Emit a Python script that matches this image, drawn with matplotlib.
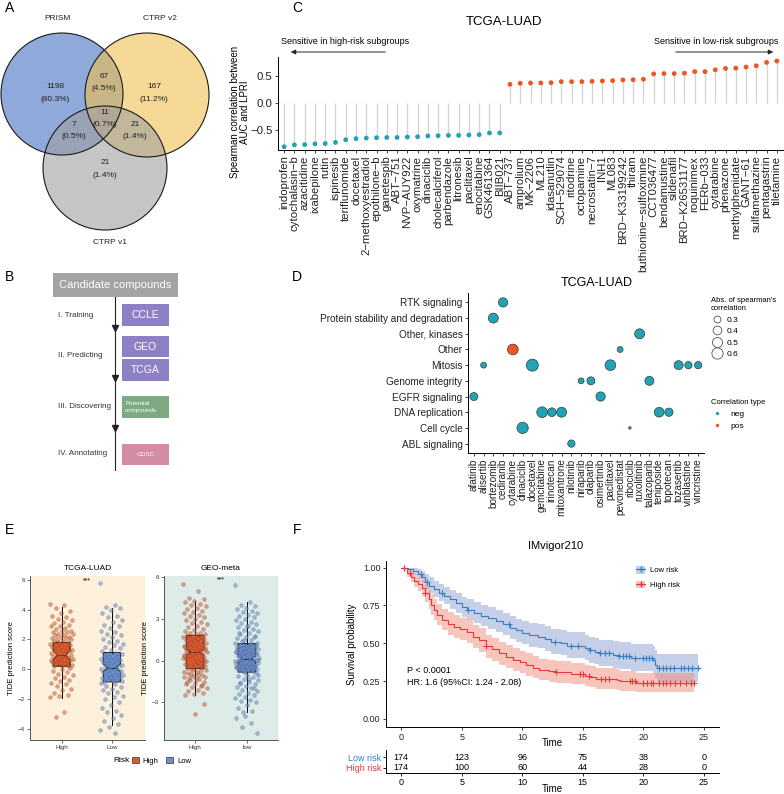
import matplotlib
matplotlib.use('Agg')
import matplotlib.pyplot as plt
from matplotlib.patches import Circle, Rectangle, Patch
from matplotlib.lines import Line2D
import numpy as np

plt.rcParams['font.family'] = ['Liberation Sans', 'DejaVu Sans']
plt.rcParams['axes.linewidth'] = 0.7

# ---------------- data ----------------
# A: Venn
VENN_SETS = ['PRISM', 'CTRP v2', 'CTRP v1']
VENN_COUNTS = [1198, 67, 167, 7, 11, 21, 21]
VENN_PCT = ['80.3%', '4.5%', '11.2%', '0.5%', '0.7%', '1.4%', '1.4%']

# B: workflow
STEPS = ['I. Training', 'II. Predicting', 'III. Discovering', 'IV. Annotating']
STEP_BOXES = ['CCLE', 'GEO', 'TCGA', 'Potential\ncompounds', 'GDSC']

# C: lollipop
C_DRUGS = ['indoprofen', 'cytochalasin-b', 'azacitidine', 'ixabepilone', 'rutin', 'ispinesib',
           'teriflunomide', 'docetaxel', '2-methoxyestradiol', 'epothilone-b', 'ganetespib',
           'ABT-751', 'NVP-AUY922', 'oxymatrine', 'dinaciclib', 'cholecalciferol', 'parbendazole',
           'litronesib', 'paclitaxel', 'enocitabine', 'GSK461364', 'BIIB021',
           'ABT-737', 'amprolium', 'MK-2206', 'ML210', 'idasanutlin', 'SCH-529074', 'ritodrine',
           'octopamine', 'necrostatin-7', 'INH1', 'ML083', 'BRD-K33199242', 'thiram',
           'buthionine-sulfoximine', 'CCT036477', 'bendamustine', 'sildenafil', 'BRD-K26531177',
           'roquinimex', 'FERb-033', 'cytarabine', 'phenazone', 'methylphenidate', 'GANT-61',
           'sulfamethazine', 'pentagastrin', 'tiletamine']
C_RHO = [-0.81, -0.775, -0.77, -0.756, -0.75, -0.73, -0.68, -0.66, -0.65, -0.643, -0.638,
         -0.638, -0.63, -0.625, -0.61, -0.606, -0.60, -0.60, -0.593, -0.587, -0.555, -0.555,
         0.345, 0.364, 0.37, 0.37, 0.375, 0.394, 0.394, 0.394, 0.40, 0.407, 0.413, 0.426,
         0.43, 0.439, 0.538, 0.544, 0.544, 0.55, 0.58, 0.58, 0.613, 0.638, 0.644, 0.664,
         0.688, 0.75, 0.776]

# D: bubble
D_CATS = ['ABL signaling', 'Cell cycle', 'DNA replication', 'EGFR signaling', 'Genome integrity',
          'Mitosis', 'Other', 'Other, kinases', 'Protein stability and degradation', 'RTK signaling']
D_DRUGS = ['afatinib', 'alisertib', 'bortezomib', 'cediranib', 'cytarabine', 'dinaciclib',
           'docetaxel', 'gemcitabine', 'irinotecan', 'mitoxantrone', 'nilotinib', 'niraparib',
           'olaparib', 'osimertinib', 'paclitaxel', 'pevonedistat', 'ribociclib', 'ruxolitinib',
           'talazoparib', 'teniposide', 'topotecan', 'tozasertib', 'vinblastine', 'vincristine']
D_PATHWAY = ['EGFR signaling', 'Mitosis', 'Protein stability and degradation', 'RTK signaling',
             'Other', 'Cell cycle', 'Mitosis', 'DNA replication', 'DNA replication',
             'DNA replication', 'ABL signaling', 'Genome integrity', 'Genome integrity',
             'EGFR signaling', 'Mitosis', 'Other', 'Cell cycle', 'Other, kinases',
             'Genome integrity', 'DNA replication', 'DNA replication', 'Mitosis', 'Mitosis', 'Mitosis']
D_ABS = [0.36, 0.26, 0.49, 0.44, 0.55, 0.60, 0.67, 0.55, 0.40, 0.49, 0.32, 0.26,
         0.36, 0.44, 0.55, 0.26, 0.20, 0.49, 0.42, 0.47, 0.375, 0.42, 0.32, 0.32]
D_TYPE = ['neg', 'neg', 'neg', 'neg', 'pos', 'neg', 'neg', 'neg', 'neg', 'neg', 'neg', 'neg',
          'neg', 'neg', 'neg', 'neg', 'neg', 'neg', 'neg', 'neg', 'neg', 'neg', 'neg', 'neg']

# E: TIDE scores
TCGA_HIGH = [4.4, 4.3, 4.1, 3.9, 3.8, 3.6, 3.5, 3.4, 3.3, 3.2, 3.1, 3.0, 2.9, 2.9, 2.8, 2.7,
             2.6, 2.6, 2.5, 2.5, 2.4, 2.4, 2.3, 2.3, 2.2, 2.2, 2.1, 2.1, 2.0, 2.0, 1.9, 1.9,
             1.8, 1.8, 1.7, 1.7, 1.6, 1.6, 1.5, 1.5, 1.4, 1.4, 1.3, 1.3, 1.2, 1.2, 1.1, 1.1,
             1.0, 1.0, 0.95, 0.9, 0.9, 0.8, 0.8, 0.7, 0.7, 0.6, 0.6, 0.5, 0.5, 0.4, 0.4, 0.3,
             0.3, 0.2, 0.2, 0.85, 0.65, 0.45, 0.35, 0.1, 0.0, -0.1, -0.2, -0.3, -0.4, -0.5,
             -0.6, -0.7, -0.8, -0.9, -1.0, -1.1, -1.3, -1.4, -1.6, -1.7, -1.8, -1.9, -2.85, -3.2]
TCGA_LOW = [5.8, 4.3, 4.2, 4.1, 4.0, 3.8, 3.6, 3.5, 3.3, 3.2, 3.0, 2.9, 2.8, 2.6, 2.5, 2.4,
            2.3, 2.2, 2.0, 1.9, 1.8, 1.7, 1.6, 1.5, 1.4, 1.3, 1.2, 1.1, 1.0, 1.0, 0.9, 0.9,
            0.8, 0.8, 0.7, 0.7, 0.6, 0.6, 0.5, 0.5, 0.4, 0.4, 0.3, 0.3, 0.2, 0.2, 0.1, 0.0,
            0.0, -0.1, -0.1, -0.2, -0.2, -0.3, -0.3, -0.4, -0.4, -0.5, -0.5, -0.6, -0.6, -0.7,
            -0.7, -0.8, -0.8, -0.85, -0.25, -0.55, -0.9, -1.0, -1.1, -1.2, -1.3, -1.4, -1.5,
            -1.6, -1.8, -1.9, -2.0, -2.2, -2.4, -2.6, -2.8, -2.9, -3.1, -3.3, -3.5, -3.7, -3.9,
            -4.1, -4.3]
GEO_HIGH = [5.5, 5.0, 4.5, 4.4, 4.3, 4.2, 4.1, 4.0, 3.9, 3.8, 3.7, 3.6, 3.5, 3.4, 3.3, 3.2,
            3.1, 3.0, 2.9, 2.8, 2.7, 2.6, 2.5, 2.4, 2.3, 2.2, 2.1, 2.0, 2.0, 1.9, 1.9, 1.85,
            1.8, 1.75, 1.7, 1.65, 1.6, 1.55, 1.5, 1.45, 1.4, 1.35, 1.3, 1.25, 1.2, 1.15, 1.1,
            1.05, 1.0, 0.95, 0.9, 0.85, 0.8, 0.75, 0.7, 0.65, 1.6, 1.2, 0.9, 1.4, 1.0, 0.7,
            1.3, 0.8, 0.6, 0.55, 0.5, 0.45, 0.4, 0.35, 0.3, 0.25, 0.2, 0.15, 0.1, 0.05, 0.0,
            -0.05, -0.1, -0.15, -0.2, -0.25, -0.3, -0.35, -0.4, -0.45, -0.5, -0.55, 0.5, 0.2,
            -0.1, 0.4, 0.0, -0.3, 0.3, -0.2, -0.6, -0.7, -0.8, -0.9, -1.0, -1.1, -1.2, -1.3,
            -1.4, -1.5, -1.6, -1.7, -1.8, -1.9, -2.0, -2.1, -2.2, -2.3, -2.4, -2.5, -0.75,
            -0.95, -1.15, -1.35, -1.55, -1.75, -0.65, -0.85, -1.05, -1.25, -3.1, -3.8]
GEO_LOW = [5.4, 4.2, 4.0, 3.9, 3.8, 3.7, 3.6, 3.5, 3.4, 3.3, 3.2, 3.1, 3.0, 2.9, 2.8, 2.7,
           2.6, 2.5, 2.4, 2.3, 2.2, 2.1, 2.0, 1.9, 1.8, 1.7, 1.6, 1.5, 1.4, 1.3, 2.5, 2.0,
           1.7, 1.5, 1.3, 1.2, 1.15, 1.1, 1.05, 1.0, 0.95, 0.9, 0.85, 0.8, 0.75, 0.7, 0.65,
           0.6, 0.55, 0.5, 0.45, 0.4, 0.35, 0.3, 0.25, 0.2, 0.15, 1.1, 1.0, 0.9, 0.8, 0.7,
           0.6, 0.5, 0.4, 0.3, 0.2, 0.9, 0.6, 0.3, 0.1, 0.05, 0.0, -0.05, -0.1, -0.15, -0.2,
           -0.25, -0.3, -0.35, -0.4, -0.45, -0.5, -0.55, -0.6, -0.65, -0.7, -0.75, -0.8, 0.0,
           -0.1, -0.2, -0.3, -0.4, -0.5, -0.6, -0.7, 0.05, -0.15, -0.35, -0.55, -0.75, -0.25,
           -0.45, -0.65, -0.9, -1.0, -1.1, -1.2, -1.3, -1.4, -1.5, -1.6, -1.7, -1.8, -1.9,
           -2.0, -2.1, -2.2, -2.3, -2.4, -2.5, -2.6, -2.7, -2.8, -2.9, -3.0, -3.2, -3.4, -3.6,
           -3.7, -1.0, -1.3, -1.6, -2.0, -4.0, -4.1, -4.5, -4.8, -5.2]
# box summaries: q1, median, q3, whisker low, whisker high, notch half width
E_BOX = {
    'TCGA-LUAD': [(0.2, 0.95, 1.8, -1.93, 4.2, 0.3), (-0.85, 0.1, 1.12, -3.72, 4.13, 0.25)],
    'GEO-meta': [(-0.57, 0.62, 1.81, -2.48, 4.3, 0.2), (-0.82, 0.14, 1.22, -3.72, 4.2, 0.2)],
}

# F: Kaplan-Meier (IMvigor210)
LOW_T = [0, 0.6, 1.0, 1.4, 1.7, 2.0, 2.3, 2.7, 3.1, 3.5, 4.0, 4.5, 5.0, 5.4, 6.0, 6.6, 7.2,
         7.8, 8.4, 9.0, 9.5, 10.0, 10.6, 11.3, 11.9, 12.4, 13.2, 13.7, 15.2, 15.5, 16.0, 16.3,
         17.5, 18.0, 19.0, 20.8, 20.95, 21.1]
LOW_S = [1.0, 0.988, 0.976, 0.958, 0.94, 0.905, 0.88, 0.858, 0.835, 0.815, 0.79, 0.765, 0.74,
         0.72, 0.70, 0.68, 0.665, 0.645, 0.625, 0.60, 0.585, 0.57, 0.555, 0.545, 0.53, 0.511,
         0.50, 0.485, 0.47, 0.456, 0.445, 0.434, 0.423, 0.416, 0.405, 0.39, 0.36, 0.335]
LOW_HI = [1.0, 1.0, 1.0, 0.99, 0.98, 0.955, 0.935, 0.915, 0.895, 0.875, 0.853, 0.83, 0.808,
          0.79, 0.77, 0.752, 0.738, 0.72, 0.70, 0.678, 0.664, 0.65, 0.636, 0.627, 0.613, 0.595,
          0.585, 0.572, 0.558, 0.545, 0.535, 0.525, 0.515, 0.508, 0.498, 0.485, 0.455, 0.43]
LOW_LO = [1.0, 0.97, 0.95, 0.925, 0.90, 0.86, 0.83, 0.805, 0.78, 0.758, 0.73, 0.703, 0.676,
          0.655, 0.633, 0.612, 0.595, 0.573, 0.553, 0.527, 0.51, 0.495, 0.478, 0.467, 0.452,
          0.432, 0.42, 0.405, 0.388, 0.373, 0.362, 0.35, 0.338, 0.33, 0.318, 0.302, 0.272, 0.247]
LOW_END = 24.5
LOW_CENS = [0.2, 1.6, 2.1, 3.4, 5.5, 8.9, 12.7, 14.0, 14.6, 15.6, 16.4, 16.8, 17.2, 18.0, 18.3,
            18.6, 18.8, 19.3, 20.0, 20.2, 20.5, 20.7, 21.3, 21.6, 21.9, 22.2, 22.5, 23.1, 23.4,
            23.7, 24.0, 24.5]
HIGH_T = [0, 0.5, 0.8, 1.1, 1.4, 1.7, 2.0, 2.3, 2.5, 2.7, 3.0, 3.4, 3.9, 4.4, 4.9, 5.4, 5.9,
          6.4, 7.0, 7.5, 8.1, 8.7, 9.2, 9.8, 10.3, 10.9, 11.4, 12.2, 12.8, 14.0, 15.2, 15.6,
          16.1, 17.8, 18.1, 19.4]
HIGH_S = [1.0, 0.965, 0.94, 0.91, 0.89, 0.865, 0.83, 0.79, 0.755, 0.72, 0.69, 0.655, 0.63,
          0.61, 0.595, 0.575, 0.545, 0.52, 0.48, 0.46, 0.435, 0.41, 0.39, 0.375, 0.357, 0.34,
          0.324, 0.315, 0.309, 0.30, 0.283, 0.275, 0.264, 0.256, 0.25, 0.236]
HIGH_HI = [1.0, 0.99, 0.975, 0.955, 0.94, 0.92, 0.89, 0.855, 0.823, 0.79, 0.762, 0.728, 0.705,
           0.685, 0.67, 0.652, 0.622, 0.598, 0.558, 0.538, 0.512, 0.487, 0.467, 0.452, 0.433,
           0.415, 0.398, 0.389, 0.382, 0.373, 0.355, 0.347, 0.335, 0.327, 0.32, 0.305]
HIGH_LO = [1.0, 0.94, 0.905, 0.87, 0.845, 0.815, 0.775, 0.73, 0.69, 0.652, 0.62, 0.585, 0.558,
           0.538, 0.522, 0.5, 0.47, 0.445, 0.405, 0.385, 0.36, 0.337, 0.317, 0.303, 0.286, 0.27,
           0.255, 0.246, 0.24, 0.232, 0.217, 0.21, 0.2, 0.194, 0.188, 0.176]
HIGH_END = 24.2
HIGH_CENS = [0.2, 0.7, 2.0, 7.0, 12.8, 14.8, 15.0, 15.5, 16.5, 16.8, 17.2, 18.9, 19.1, 19.3,
             20.0, 20.3, 20.6, 20.8, 21.3, 21.6, 21.9, 22.2, 22.6, 23.0, 23.5, 23.9, 24.2]
RISK_TIMES = [0, 5, 10, 15, 20, 25]
RISK_LOW = [174, 123, 96, 75, 38, 0]
RISK_HIGH = [174, 100, 60, 44, 28, 0]

# ---------------- figure ----------------
W, H = 784, 794
fig = plt.figure(figsize=(W / 100, H / 100), dpi=100)


def px_axes(x0, y0, x1, y1):
    return fig.add_axes([x0 / W, 1 - y1 / H, (x1 - x0) / W, (y1 - y0) / H])


def fpos(x, y):
    return (x / W, 1 - y / H)


TEAL = '#22A3B3'
ORANGE = '#EE5522'

for lab, x, y in [('A', 10, 8), ('B', 10, 277), ('C', 297, 8), ('D', 297, 277),
                  ('E', 10, 530), ('F', 297, 530)]:
    fig.text(*fpos(x, y), lab, fontsize=10, ha='center', va='center')

# ---- A: Venn ----
axA = px_axes(0, 0, 260, 260)
axA.set_xlim(0, 260)
axA.set_ylim(260, 0)
axA.axis('off')
circles = [((62, 94), 61, '#4470C4'), ((147, 95), 62, '#F0C050'), ((105, 168), 62, '#A0A0A0')]
for c, r, col in circles:
    axA.add_patch(Circle(c, r, facecolor=col, alpha=0.6, edgecolor='none'))
for c, r, col in circles:
    axA.add_patch(Circle(c, r, facecolor='none', edgecolor='#1a1a1a', lw=0.8))
region_xy = [(55, 87), (104, 76), (154, 87), (74, 124), (105, 112), (135, 124), (105, 163)]
for (x, y), n, p in zip(region_xy, VENN_COUNTS, VENN_PCT):
    axA.text(x, y, str(n), ha='center', va='center', fontsize=6, color='#222222')
    axA.text(x, y + 12.5, '(' + p + ')', ha='center', va='center', fontsize=6, color='#222222')
for (x, y), name in zip([(58, 18), (160, 18), (110, 243)], VENN_SETS):
    axA.text(x, y, name, ha='center', va='center', fontsize=6, color='#222222')

# ---- B: workflow ----
axB = px_axes(0, 262, 260, 480)
axB.set_xlim(0, 260)
axB.set_ylim(480, 262)
axB.axis('off')
axB.add_patch(Rectangle((53, 273), 125, 24, facecolor='#A3A3A3', edgecolor='none'))
axB.text(115.5, 285, 'Candidate compounds', color='white', ha='center', va='center', fontsize=8)
axB.plot([115, 115], [297, 470], color='#222222', lw=0.8)
axB.plot([115, 115, 115], [328, 378, 428], ls='', marker='v', color='#222222', ms=4)
for name, y in zip(STEPS, [315, 355, 406, 453]):
    axB.text(58, y, name, ha='left', va='center', fontsize=5.8, color='#333333')
box_geo = [(304, 326, '#8E80C4', 7.5), (336, 357, '#8E80C4', 7.5), (359, 381, '#8E80C4', 7.5),
           (396, 418, '#7DAA82', 4.5), (444, 465, '#D48CA5', 4.5)]
for (y0, y1, col, fs), name in zip(box_geo, STEP_BOXES):
    axB.add_patch(Rectangle((122, y0), 47, y1 - y0, facecolor=col, edgecolor='none'))
    if '\n' in name:
        axB.text(125, (y0 + y1) / 2, name, ha='left', va='center', fontsize=fs, color='white',
                 linespacing=1.3)
    else:
        axB.text(145.5, (y0 + y1) / 2, name, ha='center', va='center', fontsize=fs, color='white')

# ---- C: lollipop ----
axC = px_axes(278, 57, 783, 150)
xc = np.arange(len(C_DRUGS))
colsC = [TEAL if v < 0 else ORANGE for v in C_RHO]
axC.vlines(xc, 0, C_RHO, color='#D3D3D3', lw=0.9, zorder=1)
axC.scatter(xc, C_RHO, s=12, c=colsC, linewidths=0, zorder=2)
axC.set_xlim(-0.6, len(C_DRUGS) - 0.4)
axC.set_ylim(-0.87, 0.85)
axC.set_yticks([-0.5, 0.0, 0.5])
axC.set_yticklabels(['\u22120.5', '0.0', '0.5'])
axC.set_xticks(xc)
axC.set_xticklabels([d.replace('-', '\u2212') for d in C_DRUGS], rotation=90)
axC.tick_params(labelsize=8.2, length=2.5, width=0.6, pad=1.5, colors='#222222')
for s in ['top', 'right']:
    axC.spines[s].set_visible(False)
fig.text(*fpos(504, 22), 'TCGA-LUAD', ha='center', va='center', fontsize=9.5)
fig.text(*fpos(240, 112), 'Spearman correlation between\nAUC and LPRI', rotation=90,
         ha='center', va='center', fontsize=7, linespacing=1.1)
fig.text(*fpos(281, 42), 'Sensitive in high-risk subgroups', ha='left', va='center', fontsize=6.5)
fig.text(*fpos(778, 42), 'Sensitive in low-risk subgroups', ha='right', va='center', fontsize=6.5)
axC.annotate('', xy=fpos(288, 52), xytext=fpos(388, 52), xycoords='figure fraction',
             textcoords='figure fraction', annotation_clip=False,
             arrowprops=dict(arrowstyle='-|>', color='#222222', lw=0.7, mutation_scale=7))
axC.annotate('', xy=fpos(776, 52), xytext=fpos(673, 52), xycoords='figure fraction',
             textcoords='figure fraction', annotation_clip=False,
             arrowprops=dict(arrowstyle='-|>', color='#222222', lw=0.7, mutation_scale=7))

# ---- D: bubble ----
axD = px_axes(468, 293, 704, 453)


def d_area(v):
    d_px = 2.5 + 9.5 * np.sqrt(np.clip((np.asarray(v) - 0.2) / 0.47, 0, None))
    return (d_px * 0.72) ** 2


xd = np.arange(len(D_DRUGS))
yd = [D_CATS.index(p) for p in D_PATHWAY]
colsD = [TEAL if t == 'neg' else ORANGE for t in D_TYPE]
axD.scatter(xd, yd, s=d_area(D_ABS), c=colsD, edgecolors='#3a3a3a', linewidths=0.5, zorder=3)
axD.set_xlim(-0.6, len(D_DRUGS) - 0.4)
axD.set_ylim(-0.6, len(D_CATS) - 0.4)
axD.set_xticks(xd)
axD.set_xticklabels(D_DRUGS, rotation=90)
axD.set_yticks(range(len(D_CATS)))
axD.set_yticklabels(D_CATS)
axD.tick_params(labelsize=7.2, length=2.5, width=0.6, pad=1.5, colors='#222222')
for s in ['top', 'right']:
    axD.spines[s].set_visible(False)
fig.text(*fpos(597, 283), 'TCGA-LUAD', ha='center', va='center', fontsize=9)
size_h = [Line2D([], [], ls='', marker='o', ms=np.sqrt(d_area(v)), mfc='white', mec='#555555',
                 mew=0.6) for v in [0.3, 0.4, 0.5, 0.6]]
leg1 = axD.legend(size_h, ['0.3', '0.4', '0.5', '0.6'], title="Abs. of spearman's\ncorrelation",
                  loc='upper left', bbox_to_anchor=fpos(711, 297), bbox_transform=fig.transFigure,
                  frameon=False, fontsize=6, title_fontsize=5.5, alignment='left',
                  handlelength=1.4, handletextpad=0.5, labelspacing=0.45, borderpad=0,
                  borderaxespad=0)
axD.add_artist(leg1)
type_h = [Line2D([], [], ls='', marker='o', ms=2.5, mfc=c, mec='none') for c in [TEAL, ORANGE]]
axD.legend(type_h, ['neg', 'pos'], title='Correlation type', loc='upper left',
           bbox_to_anchor=fpos(711, 399), bbox_transform=fig.transFigure, frameon=False,
           fontsize=6, title_fontsize=5.5, alignment='left', handlelength=1.4,
           handletextpad=0.9, labelspacing=0.5, borderpad=0, borderaxespad=0)

# ---- E: TIDE box plots ----
E_PANELS = [('TCGA-LUAD', (30, 576, 145, 740), '#FDF1DC', TCGA_HIGH, TCGA_LOW, ['High', 'Low'],
             (-4.76, 6.27), [-4, -2, 0, 2, 4, 6], (0.37, 2.66)),
            ('GEO-meta', (164, 576, 278, 740), '#DDECE8', GEO_HIGH, GEO_LOW, ['High', 'low'],
             (-5.7, 6.08), [-3, 0, 3, 6], (0.4, 2.6))]
BOX_COLS = ['#E4572E', '#6F8FCB']
PT_FACE = ['#D0643A', '#6F8FC6']
PT_EDGE = ['#9A3B1E', '#3F5F96']
for title, rect, bg, hi_vals, lo_vals, xl, ylim, yt, xlim in E_PANELS:
    ax = px_axes(*rect)
    ax.set_facecolor(bg)
    stats = []
    for q1, med, q3, wl, wh, nh in E_BOX[title]:
        stats.append(dict(q1=q1, med=med, q3=q3, whislo=wl, whishi=wh, fliers=[],
                          cilo=med - nh, cihi=med + nh))
    bp = ax.bxp(stats, positions=[1, 2], widths=0.34, patch_artist=True, shownotches=True,
                showfliers=False, showcaps=False, manage_ticks=False,
                boxprops=dict(lw=0.7, edgecolor='#111111'), whiskerprops=dict(lw=0.7),
                medianprops=dict(color='#111111', lw=0.7), zorder=2)
    for patch, col in zip(bp['boxes'], BOX_COLS):
        patch.set_facecolor(col)
    for k, vals in enumerate([hi_vals, lo_vals]):
        n = len(vals)
        jit = ((np.arange(n) * 0.6180339887) % 1 - 0.5) * 0.46
        ax.scatter(1 + k + jit, vals, s=7, facecolor=PT_FACE[k], edgecolor=PT_EDGE[k],
                   linewidths=0.4, alpha=0.55, zorder=3)
    ax.set_xlim(*xlim)
    ax.set_ylim(*ylim)
    ax.set_yticks(yt)
    ax.set_xticks([1, 2])
    ax.set_xticklabels(xl)
    ax.tick_params(labelsize=4.5, length=2, width=0.5, pad=1.5, colors='#333333')
    for s in ['top', 'right']:
        ax.spines[s].set_visible(False)
    for s in ['left', 'bottom']:
        ax.spines[s].set_color('#555555')
    ax.set_ylabel('TIDE prediction score', fontsize=5.5, labelpad=2)
    ax.set_title(title, fontsize=6, pad=4)
    ax.text(1.5, ylim[1] - 0.3, '***', ha='center', va='center', fontsize=5)
fig.text(*fpos(122, 761), 'Risk', ha='center', va='center', fontsize=6)
fig.legend([Patch(facecolor=BOX_COLS[0], edgecolor='#333333', lw=0.5),
            Patch(facecolor=BOX_COLS[1], edgecolor='#333333', lw=0.5)], ['High', 'Low'],
           loc='center left', bbox_to_anchor=fpos(132, 761), ncol=2, frameon=False, fontsize=5.5,
           handlelength=0.9, handleheight=0.9, handletextpad=0.5, columnspacing=1.0,
           borderpad=0, borderaxespad=0)

# ---- F: Kaplan-Meier ----
BLUE, RED = '#3A7DC0', '#E8383D'
BLUE_BAND, RED_BAND = '#8DA0D3', '#EE8F7A'
axF = px_axes(386, 561, 719, 727)
for T, S, LO, HI, END, CENS, col, band in [
        (LOW_T, LOW_S, LOW_LO, LOW_HI, LOW_END, LOW_CENS, BLUE, BLUE_BAND),
        (HIGH_T, HIGH_S, HIGH_LO, HIGH_HI, HIGH_END, HIGH_CENS, RED, RED_BAND)]:
    t = np.array(T + [END])
    s = np.array(S + [S[-1]])
    lo = np.array(LO + [LO[-1]])
    hi = np.array(HI + [HI[-1]])
    axF.fill_between(t, lo, hi, step='post', color=band, alpha=0.5, lw=0)
    axF.step(t, s, where='post', color=col, lw=0.8)
    idx = np.searchsorted(T, CENS, side='right') - 1
    axF.plot(CENS, np.array(S)[idx], ls='', marker='+', color=col, ms=4.5, mew=0.8)
axF.set_xlim(-1.25, 26.25)
axF.set_ylim(-0.053, 1.044)
axF.set_yticks([0, 0.25, 0.5, 0.75, 1.0])
axF.set_yticklabels(['0.00', '0.25', '0.50', '0.75', '1.00'])
axF.set_xticks(RISK_TIMES)
axF.tick_params(labelsize=6.5, length=2.5, width=0.6, pad=1.5, colors='#222222')
for sp in ['top', 'right']:
    axF.spines[sp].set_visible(False)
axF.set_xlabel('Time', fontsize=7)
axF.xaxis.set_label_coords(0.5, -0.065)
axF.set_ylabel('Survival probability', fontsize=7, labelpad=4)
axF.text(0.5, 0.28, 'P < 0.0001\nHR: 1.6 (95%CI: 1.24 - 2.08)', ha='left', va='center',
         fontsize=6.5, linespacing=1.35)
fig.text(*fpos(556, 546), 'IMvigor210', ha='center', va='center', fontsize=8)
axF.legend([(Patch(facecolor=BLUE_BAND, alpha=0.5), Line2D([], [], color=BLUE, marker='+', lw=0.8, ms=4)),
            (Patch(facecolor=RED_BAND, alpha=0.5), Line2D([], [], color=RED, marker='+', lw=0.8, ms=4))],
           ['Low risk', 'High risk'], loc='upper left', bbox_to_anchor=fpos(636, 566),
           bbox_transform=fig.transFigure, frameon=False, fontsize=5.5, handlelength=1.2,
           handleheight=1.2, handletextpad=0.6, labelspacing=0.8, borderpad=0, borderaxespad=0)

axT = px_axes(386, 750, 719, 773)
axT.patch.set_visible(False)
axT.set_xlim(-1.25, 26.25)
axT.set_ylim(0.5, 2.7)
for tt, a, b in zip(RISK_TIMES, RISK_LOW, RISK_HIGH):
    axT.text(tt, 2, str(a), ha='center', va='center', fontsize=6.5)
    axT.text(tt, 1, str(b), ha='center', va='center', fontsize=6.5)
axT.set_yticks([2, 1])
axT.set_yticklabels(['Low risk', 'High risk'])
for lbl, col in zip(axT.get_yticklabels(), [BLUE, RED]):
    lbl.set_color(col)
axT.set_xticks(RISK_TIMES)
axT.tick_params(labelsize=6.5, length=2.5, width=0.6, pad=1)
for sp in ['top', 'right']:
    axT.spines[sp].set_visible(False)
axT.set_xlabel('Time', fontsize=7)
axT.xaxis.set_label_coords(0.5, -0.46)

fig.savefig('out.png', dpi=100)
